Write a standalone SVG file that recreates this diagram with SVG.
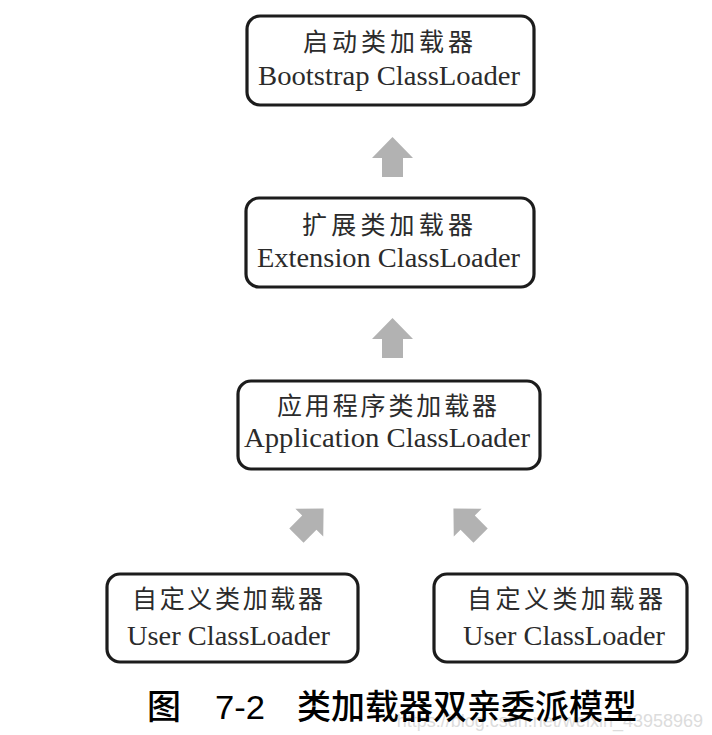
<svg xmlns="http://www.w3.org/2000/svg" xmlns:xlink="http://www.w3.org/1999/xlink" width="712" height="735" viewBox="0 0 712 735">
<style>
.box{fill:#fff;stroke:#1c1c1c;stroke-width:3.2}
.cn{font-family:"Noto Sans CJK SC","Noto Sans CJK JP",sans-serif;font-size:25px;fill:#2b2b2b;text-anchor:start}
.en{font-family:"Liberation Serif","Times New Roman",serif;font-size:28px;fill:#2b2b2b}
.cap{font-family:"Noto Sans CJK SC","Noto Sans CJK JP",sans-serif;font-size:34px;font-weight:500;fill:#000}
.num{font-family:"Liberation Sans",Arial,sans-serif;font-size:33px;fill:#000}
.arr{fill:#b2b2b2}
.wm{font-family:"Liberation Sans",Arial,sans-serif;font-size:18px;fill:#dcdcdc}
</style>
<defs>
<path id="up" d="M0,-20 L20.5,1 L10.5,1 L10.5,20 L-10.5,20 L-10.5,1 L-20.5,1 Z"/>
</defs>
<rect width="712" height="735" fill="#fff"/>

<g id="connectors" class="arr">
<use xlink:href="#up" transform="translate(392.5,157)"/>
<use xlink:href="#up" transform="translate(392.5,338)"/>
<use xlink:href="#up" transform="translate(310,522) rotate(45) scale(0.96)"/>
<use xlink:href="#up" transform="translate(467,522) rotate(-45) scale(0.96)"/>
</g>

<g id="bootstrap">
<rect class="box" x="247" y="16" width="287" height="89" rx="13"/>
<text class="cn" x="303" y="51" textLength="170" lengthAdjust="spacing">启动类加载器</text>
<text class="en" x="258" y="85" textLength="262" lengthAdjust="spacingAndGlyphs">Bootstrap ClassLoader</text>
</g>

<g id="extension">
<rect class="box" x="246" y="198" width="288" height="89" rx="13"/>
<text class="cn" x="302" y="234" textLength="171" lengthAdjust="spacing">扩展类加载器</text>
<text class="en" x="257" y="267" textLength="263" lengthAdjust="spacingAndGlyphs">Extension ClassLoader</text>
</g>

<g id="application">
<rect class="box" x="238" y="381" width="302" height="88" rx="13"/>
<text class="cn" x="277" y="415" textLength="220" lengthAdjust="spacing">应用程序类加载器</text>
<text class="en" x="244" y="447" textLength="286" lengthAdjust="spacingAndGlyphs">Application ClassLoader</text>
</g>

<g id="user1">
<rect class="box" x="107" y="574" width="251" height="88" rx="13"/>
<text class="cn" x="132" y="608" textLength="191" lengthAdjust="spacing">自定义类加载器</text>
<text class="en" x="127" y="645" textLength="203" lengthAdjust="spacingAndGlyphs">User ClassLoader</text>
</g>

<g id="user2">
<rect class="box" x="434" y="574" width="253" height="88" rx="13"/>
<text class="cn" x="467" y="608" textLength="196" lengthAdjust="spacing">自定义类加载器</text>
<text class="en" x="463" y="645" textLength="202" lengthAdjust="spacingAndGlyphs">User ClassLoader</text>
</g>

<text class="wm" x="703" y="727" text-anchor="end">https://blog.csdn.net/weixin_43958969</text>

<g id="caption">
<text class="cap" x="147" y="719">图</text>
<text class="num" x="215" y="719" textLength="50" lengthAdjust="spacingAndGlyphs">7-2</text>
<text class="cap" x="297" y="719" textLength="340" lengthAdjust="spacing">类加载器双亲委派模型</text>
</g>
</svg>
